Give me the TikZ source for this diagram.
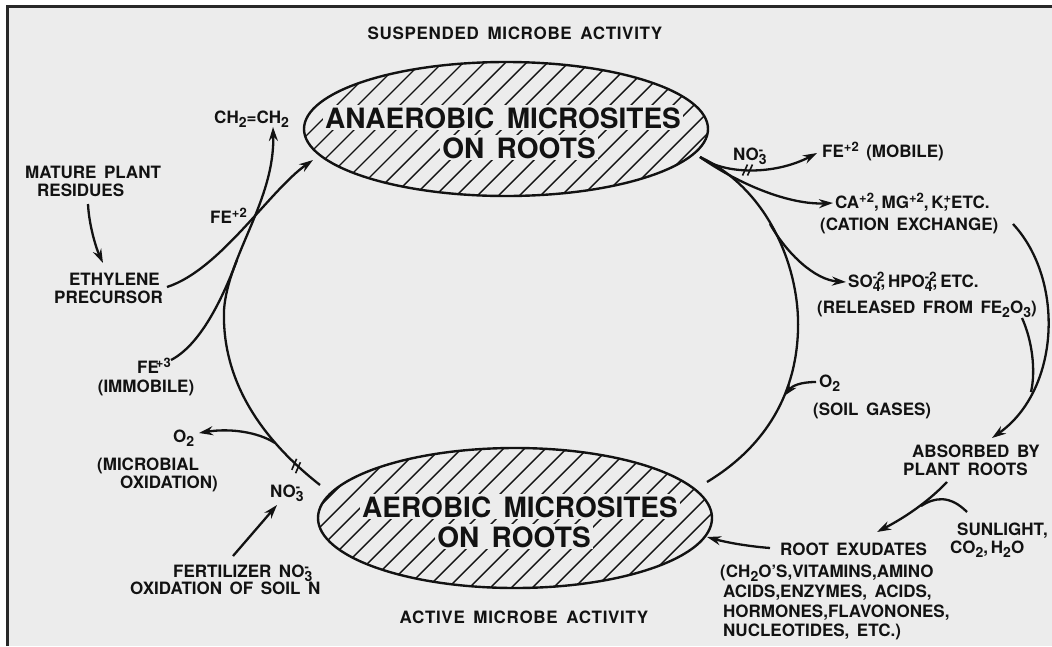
\documentclass[tikz,border=0pt]{standalone}
\usepackage{fontspec}
\setmainfont{TeX Gyre Heros}[WordSpace=1.6]
\usetikzlibrary{arrows.meta,shapes.geometric}
\definecolor{bg}{RGB}{236,236,236}
\definecolor{ink}{RGB}{18,18,18}
\definecolor{framec}{RGB}{40,40,40}
\newcommand\lsub[1]{\raisebox{-4.5pt}{\fontsize{14}{14}\selectfont #1}}
\newcommand\lsup[1]{\raisebox{5.5pt}{\fontsize{13}{13}\selectfont #1}}
\newcommand\lsubsup[2]{\rlap{\lsup{#2}}\lsub{#1}}
\tikzset{
  lab/.style={font=\fontsize{17}{19}\selectfont\bfseries, inner sep=0pt, text=ink},
  ttl/.style={lab, font=\fontsize{17}{19}\selectfont\bfseries\addfontfeature{LetterSpace=4}},
  big/.style={font=\fontsize{28}{30}\selectfont\bfseries, inner sep=2pt, fill=bg, text=ink},
  ln/.style={draw=ink, line width=2.3pt},
  arr/.style={ln, -{Stealth[length=14pt,width=9pt]}},
  hatch/.style={draw=ink, line width=1.4pt},
  site/.style={ellipse, draw=ink, line width=2.4pt, inner sep=0pt},
  slash/.style={draw=ink, line width=1.6pt},
  frameline/.style={draw=framec, line width=3pt},
}
\begin{document}
\begin{tikzpicture}[x=1pt,y=-1pt]
\useasboundingbox (0,0) rectangle (1052,646);
\fill[white] (0,0) rectangle (1052,646);
\fill[bg] (7,6) rectangle (1052,646);
\draw[frameline] (7,646) -- (7,6) -- (1052,6);

% hatching
\begin{scope}
  \clip (506,129) ellipse [x radius=202pt, y radius=67pt];
  \foreach \k in {0,...,23} \draw[hatch] (360+21*\k,40) -- ++(-170,170);
\end{scope}
\begin{scope}
  \clip (515,518) ellipse [x radius=197pt, y radius=70pt];
  \foreach \k in {0,...,23} \draw[hatch] (385+21*\k,420) -- ++(-190,190);
\end{scope}

% sites
\node[site, minimum width=404pt, minimum height=134pt] (up) at (506,129) {};
\node[site, minimum width=394pt, minimum height=140pt] (lo) at (515,518) {};
\node[big, anchor=base] (upt1) at (503,128) {ANAEROBIC MICROSITES};
\node[big, anchor=base] (upt2) at (519,158) {ON ROOTS};
\node[big, anchor=base] (lot1) at (520,517) {AEROBIC MICROSITES};
\node[big, anchor=base] (lot2) at (514,547) {ON ROOTS};

% titles
\node[ttl, anchor=base] (sus) at (515,39) {SUSPENDED MICROBE ACTIVITY};
\node[ttl, anchor=base] (act) at (524,623) {ACTIVE MICROBE ACTIVITY};

% left labels
\node[lab, anchor=base west] (ch2) at (214,123) {CH\lsub{2}=CH\lsub{2}};
\node[lab, anchor=base west] (mpr1) at (25,178) {MATURE PLANT};
\node[lab, anchor=base west] (mpr2) at (37,196) {RESIDUES};
\node[lab, anchor=base east] (eth1) at (160,285) {ETHYLENE};
\node[lab, anchor=base east] (eth2) at (163,303) {PRECURSOR};
\node[lab, anchor=base west] (fe2) at (210,223) {FE\lsup{+2}};
\node[lab, anchor=base west] (fe3) at (137,373) {FE\kern-3pt\lsup{+3}};
\node[lab, anchor=base] (imm) at (146,392) {(IMMOBILE)};
\node[lab, anchor=base west] (o2l) at (173,442) {O\lsub{2}};
\node[lab, anchor=base west] (mic1) at (97,470) {(MICROBIAL};
\node[lab, anchor=base west] (mic2) at (120,488) {OXIDATION)};
\node[lab, anchor=base west] (no3l) at (270,497) {NO\lsubsup{3}{-}};
\node[lab, anchor=base west] (fert1) at (173,577) {FERTILIZER NO\lsubsup{3}{-}};
\node[lab, anchor=base west] (fert2) at (130,594) {OXIDATION OF SOIL N};

% right labels
\node[lab, anchor=base west] (no3r) at (733,160) {NO\lsubsup{3}{-}};
\node[lab, anchor=base west] (fem) at (822,157) {FE\lsup{+2} (MOBILE)};
\node[lab, anchor=base west] (ca1) at (835,208) {CA\lsup{+2},\,MG\lsup{+2},\,K\rlap{\lsup{+}},\,ETC.};
\node[lab, anchor=base west] (ca2) at (820,230) {(CATION EXCHANGE)};
\node[lab, anchor=base west] (so1) at (848,287) {SO\lsubsup{4}{-2},\,HPO\lsubsup{4}{-2},\,ETC.};
\node[lab, anchor=base west] (so2) at (817,313) {(RELEASED FROM FE\lsub{2}O\lsub{3})};
\node[lab, anchor=base west] (o2r) at (819,387) {O\lsub{2}};
\node[lab, anchor=base west] (sg) at (813,415) {(SOIL GASES)};
\node[lab, anchor=base west] (abs1) at (912,457) {ABSORBED BY};
\node[lab, anchor=base west] (abs2) at (903,475) {PLANT ROOTS};
\node[lab, anchor=base west] (sun1) at (957,535) {SUNLIGHT,};
\node[lab, anchor=base west] (sun2) at (950,553) {CO\lsub{2},\,H\lsub{2}O};
\node[lab, anchor=base west] (rx0) at (780,555) {ROOT EXUDATES};
\node[lab, anchor=base west] (rx1) at (720,577) {(CH\lsub{2}O'S,VITAMINS,AMINO};
\node[lab, anchor=base west] (rx2) at (723,597) {ACIDS,ENZYMES, ACIDS,};
\node[lab, anchor=base west] (rx3) at (723,617) {HORMONES,FLAVONONES,};
\node[lab, anchor=base west] (rx4) at (723,636) {NUCLEOTIDES, ETC.)};

% connector ends
\coordinate (lo-l) at (320,485);
\coordinate (lo-r) at (707,482);
\coordinate (lo-in) at (707,537);
\coordinate (up-r) at (700,157);
\coordinate (up-in) at (313,160);
\coordinate (ch2-in) at (273,127);
\coordinate (fe3-out) at (171,360);
\coordinate (m1) at (237,260);
\coordinate (eth-out) at (167,287);
\coordinate (mpr-out) at (88,204);
\coordinate (eth-in) at (103,263);
\coordinate (m2) at (275,443);
\coordinate (o2l-in) at (199,433);
\coordinate (fert-out) at (233,556);
\coordinate (no3l-in) at (277,505);
\coordinate (fem-in) at (817,153);
\coordinate (ca-in) at (833,203);
\coordinate (m3) at (770,224);
\coordinate (so-in) at (846,282);
\coordinate (o2r-out) at (816,382);
\coordinate (m4) at (784,396);
\coordinate (ca-out) at (1013,224);
\coordinate (abs-in) at (992,438);
\coordinate (so-out) at (1022,318);
\coordinate (m5) at (1031,392);
\coordinate (abs-out) at (947,482);
\coordinate (rx-in) at (877,532);
\coordinate (sun-out) at (967,512);
\coordinate (m6) at (921,506);
\coordinate (rx-out) at (770,548);

% left side
\draw[arr] (lo-l) .. controls (250,430) and (222,370) .. (224,310)
                  .. controls (228,255) and (275,200) .. (ch2-in);
\draw[ln] (fe3-out) .. controls (200,345) and (222,300) .. (m1);
\draw[arr] (eth-out) .. controls (220,270) and (270,190) .. (up-in);
\draw[arr] (mpr-out) .. controls (89,225) and (96,248) .. (eth-in);
\draw[arr] (m2) .. controls (258,432) and (230,428) .. (o2l-in);
\draw[arr] (fert-out) -- (no3l-in);
\draw[slash] (294.2-2.4,464.3+5.5) -- (294.2+2.4,464.3-5.5);
\draw[slash] (298.0-2.4,467.7+5.5) -- (298.0+2.4,467.7-5.5);

% right side
\draw[arr] (up-r) .. controls (725,175) and (775,175) .. (fem-in);
\draw[slash] (745-2.5,170+5.5) -- (745+2.5,170-5.5);
\draw[slash] (750-2.5,170+5.5) -- (750+2.5,170-5.5);
\draw[arr] (up-r) .. controls (740,185) and (790,205) .. (ca-in);
\draw[ln] (up-r) .. controls (770,190) and (800,270) .. (798,330)
                 .. controls (796,400) and (760,450) .. (lo-r);
\draw[arr] (m3) .. controls (787,254) and (815,280) .. (so-in);
\draw[arr] (o2r-out) .. controls (800,382) and (792,386) .. (m4);
\draw[arr] (ca-out) .. controls (1065,280) and (1060,390) .. (abs-in);
\draw[ln] (so-out) .. controls (1032,340) and (1036,370) .. (m5);
\draw[arr] (abs-out) .. controls (925,505) and (900,520) .. (rx-in);
\draw[ln] (sun-out) .. controls (950,495) and (935,497) .. (m6);
\draw[arr] (rx-out) .. controls (745,546) and (725,542) .. (lo-in);
\end{tikzpicture}
\end{document}
